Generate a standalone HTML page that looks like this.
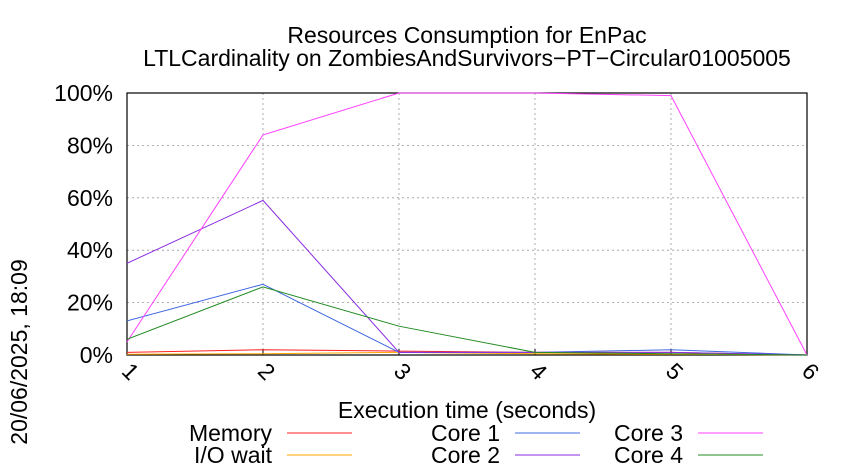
<!DOCTYPE html>
<html><head><meta charset="utf-8"><style>body{margin:0;background:#fff}svg{display:block;font-family:"Liberation Sans",sans-serif}</style></head><body>
<svg id="c" width="850" height="475">
<text x="467" y="43" text-anchor="middle" font-size="23">Resources Consumption for EnPac</text>
<text x="467" y="66" text-anchor="middle" font-size="23">LTLCardinality on ZombiesAndSurvivors−PT−Circular01005005</text>
<text transform="translate(27,352) rotate(-90)" text-anchor="middle" font-size="23">20/06/2025, 18:09</text>
<text x="467" y="418" text-anchor="middle" font-size="23">Execution time (seconds)</text>
<g id="grid"></g><g id="series"></g><g id="legend"></g>
</svg>
<script>
const xTicks=[1,2,3,4,5,6];
const yTicks=[0,20,40,60,80,100];
const times=[1,2,3,4,5,6];
const memory=[1,2,1.5,1,1,0];
const ioWait=[0.3,0.5,1,0.5,0.3,0];
const core1=[13,27,1,1,2,0];
const core2=[35,59,1,1,1,0];
const core3=[5,84,100,100,99,0];
const core4=[6,26,11,1,0.5,0];
const L=127,R=807,T=93,B=355;
const xs=v=>L+(v-1)/5*(R-L), ys=v=>B-v/100*(B-T);
const NS="http://www.w3.org/2000/svg";
const mk=(t,a,p)=>{const e=document.createElementNS(NS,t);for(const k in a)e.setAttribute(k,a[k]);p.appendChild(e);return e;};
const g=document.getElementById('grid');
yTicks.forEach(v=>{
 if(v>0&&v<100){const l=mk('line',{x1:L,x2:R,y1:ys(v),y2:ys(v),stroke:'#999','stroke-dasharray':'2,3','stroke-width':0.8},g);
 
 }
 const t=mk('text',{x:L-14,y:ys(v)+8,'text-anchor':'end','font-size':23},g);t.textContent=v+'%';
 
 
});
xTicks.forEach(v=>{
 if(v>1&&v<6){const l=mk('line',{x1:xs(v),x2:xs(v),y1:T,y2:B,stroke:'#999','stroke-dasharray':'2,3','stroke-width':0.8},g);
 
 }
 mk('line',{x1:xs(v),x2:xs(v),y1:B,y2:B-6,stroke:'#000'},g);
 const t=mk('text',{transform:`translate(${xs(v)-2},${B+22}) rotate(45)`,'text-anchor':'middle','font-size':23},g);t.textContent=v;
 
 
});
const fr=mk('rect',{x:L,y:T,width:R-L,height:B-T,fill:'none',stroke:'#000','stroke-width':1.2},g);


const s=document.getElementById('series'),lg=document.getElementById('legend');
const series=[['Memory',memory,'#ff2020',0,0],['I/O wait',ioWait,'#ffa500',0,1],['Core 1',core1,'#4169e1',1,0],['Core 2',core2,'#8a2be2',1,1],['Core 3',core3,'#ff40ff',2,0],['Core 4',core4,'#228b22',2,1]];
const colEnd=[272,500,683];
series.forEach(([n,d,c,col,row])=>{
 const p=mk('polyline',{points:d.map((v,i)=>xs(times[i])+','+ys(v)).join(' '),fill:'none',stroke:c,'stroke-width':1},s);
 
 
 const y=433+row*22;
 const t=mk('text',{x:colEnd[col],y:y+8,'text-anchor':'end','font-size':23},lg);t.textContent=n;
 
 
 const l=mk('line',{x1:colEnd[col]+15,x2:colEnd[col]+80,y1:y,y2:y,stroke:c},lg);
 
 
});
</script>
</body></html>
